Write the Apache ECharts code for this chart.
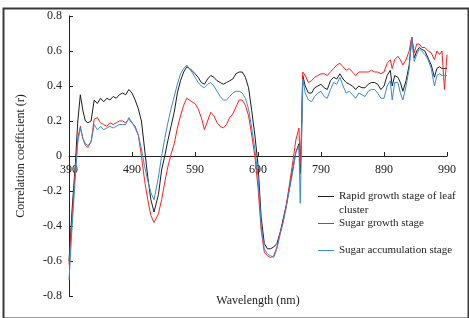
<!DOCTYPE html>
<html>
<head>
<meta charset="utf-8">
<script src="https://cdn.jsdelivr.net/npm/echarts@6/dist/echarts.min.js"></script>
<style>
  html, body { margin: 0; padding: 0; background: #fff; }
  #chart { width: 469px; height: 318px; }
</style>
</head>
<body>
<div id="chart"></div>
<script>
// wavelength (nm) sample points
var wavelengths = [390,395,400,404,408,412,416,420,425,428,
    430,435,440,445,450,455,460,465,470,475,
    480,485,490,495,500,505,510,515,520,525,
    528,532,537,542,547,552,557,562,567,572,
    577,580,585,590,595,600,605,610,615,620,
    625,630,635,640,645,650,655,660,665,670,
    675,680,685,690,695,700,705,710,715,720,
    725,730,735,740,745,750,755,757,759,761,
    765,770,775,780,785,790,795,800,805,810,
    815,820,825,830,835,840,845,850,855,860,
    865,870,875,880,885,890,895,900,903,907,
    912,916,920,925,930,934,938,942,946,950,
    955,960,965,970,974,978,982,986,990];

// Rapid growth stage of leaf cluster
var rapidGrowth = [-0.60,-0.30,-0.05,0.20,0.35,0.26,0.20,0.19,0.20,0.21,
    0.32,0.30,0.33,0.31,0.33,0.32,0.34,0.33,0.35,0.36,
    0.35,0.38,0.36,0.32,0.27,0.20,0.04,-0.12,-0.25,-0.32,
    -0.33,-0.22,-0.08,0.00,0.09,0.17,0.25,0.36,0.43,0.48,
    0.51,0.51,0.49,0.47,0.45,0.42,0.41,0.44,0.46,0.45,
    0.43,0.42,0.41,0.42,0.43,0.44,0.47,0.48,0.48,0.45,
    0.39,0.26,0.12,-0.05,-0.35,-0.50,-0.53,-0.53,-0.52,-0.50,
    -0.44,-0.36,-0.28,-0.18,-0.08,0.02,0.07,-0.10,0.10,0.46,
    0.40,0.36,0.36,0.39,0.40,0.41,0.39,0.38,0.43,0.45,
    0.44,0.47,0.44,0.42,0.41,0.40,0.38,0.40,0.39,0.39,
    0.41,0.42,0.42,0.41,0.38,0.40,0.46,0.49,0.40,0.46,
    0.45,0.42,0.37,0.43,0.52,0.68,0.56,0.60,0.62,0.61,
    0.60,0.56,0.52,0.45,0.50,0.51,0.50,0.50,0.50];

// Sugar growth stage
var sugarGrowth = [-0.62,-0.35,-0.08,0.10,0.17,0.10,0.06,0.05,0.08,0.09,
    0.21,0.22,0.19,0.18,0.17,0.19,0.18,0.19,0.20,0.20,
    0.19,0.21,0.19,0.17,0.12,0.00,-0.14,-0.25,-0.34,-0.38,
    -0.36,-0.33,-0.25,-0.15,-0.06,0.01,0.07,0.16,0.23,0.29,
    0.33,0.34,0.31,0.30,0.27,0.22,0.15,0.20,0.25,0.23,
    0.19,0.17,0.16,0.18,0.22,0.24,0.28,0.32,0.32,0.29,
    0.23,0.12,0.00,-0.18,-0.42,-0.55,-0.57,-0.58,-0.57,-0.52,
    -0.44,-0.37,-0.28,-0.16,-0.04,0.09,0.16,-0.05,0.15,0.48,
    0.46,0.42,0.43,0.45,0.46,0.47,0.47,0.46,0.48,0.50,
    0.52,0.53,0.51,0.49,0.50,0.48,0.46,0.48,0.48,0.48,
    0.48,0.49,0.48,0.48,0.47,0.48,0.53,0.55,0.50,0.55,
    0.57,0.55,0.52,0.55,0.60,0.68,0.59,0.64,0.64,0.62,
    0.62,0.60,0.59,0.55,0.60,0.58,0.60,0.38,0.58];

// Sugar accumulation stage
var sugarAccumulation = [-0.71,-0.40,-0.12,0.08,0.16,0.10,0.07,0.06,0.08,0.09,
    0.18,0.15,0.17,0.15,0.16,0.17,0.16,0.17,0.18,0.18,
    0.18,0.22,0.19,0.16,0.12,0.04,-0.06,-0.14,-0.21,-0.25,
    -0.24,-0.12,0.00,0.10,0.19,0.27,0.34,0.41,0.47,0.50,
    0.52,0.51,0.48,0.45,0.42,0.40,0.39,0.41,0.42,0.40,
    0.37,0.34,0.32,0.32,0.34,0.36,0.37,0.37,0.36,0.33,
    0.27,0.16,0.04,-0.12,-0.40,-0.53,-0.56,-0.57,-0.58,-0.53,
    -0.45,-0.38,-0.29,-0.19,-0.09,0.02,0.06,-0.27,0.05,0.44,
    0.36,0.32,0.31,0.34,0.36,0.37,0.34,0.33,0.38,0.42,
    0.41,0.45,0.40,0.36,0.37,0.35,0.33,0.36,0.35,0.34,
    0.37,0.38,0.38,0.36,0.33,0.33,0.40,0.43,0.32,0.42,
    0.42,0.36,0.32,0.40,0.50,0.68,0.54,0.58,0.61,0.60,
    0.58,0.55,0.50,0.40,0.46,0.47,0.46,0.46,0.46];

var seriesNames = ['Rapid growth stage of leaf cluster', 'Sugar growth stage', 'Sugar accumulation stage'];
var seriesColors = ['#1c1c1c', '#ff1e1e', '#3b8bd2'];

var FONT = '"Liberation Serif", "Times New Roman", serif';
var TEXT_COLOR = '#222';

function pairs(values) {
    return wavelengths.map(function (w, i) {
        return [w, values[i]];
    });
}

function makeSeries(name, values, color) {
    return {
        name: name,
        type: 'line',
        data: pairs(values),
        symbol: 'none',
        showSymbol: false,
        silent: true,
        animation: false,
        itemStyle: { color: color },
        lineStyle: { color: color, width: 1 }
    };
}

// one legend per entry, the reference spaces them unevenly
function makeLegend(name, top) {
    return {
        data: [name],
        left: 318,
        top: top,
        padding: 0,
        icon: 'rect',
        itemWidth: 16,
        itemHeight: 1,
        itemGap: 0,
        selectedMode: false,
        textStyle: {
            fontFamily: FONT,
            fontSize: 11,
            color: TEXT_COLOR
        },
        formatter: function (n) {
            // the long name wraps, second line is drawn below as graphic
            if (n === seriesNames[0]) {
                return 'Rapid growth stage of leaf';
            }
            return n;
        }
    };
}

var chart = echarts.init(document.getElementById('chart'), null, { renderer: 'canvas' });

var option = {
    animation: false,
    backgroundColor: '#fff',
    grid: {
        left: 69,
        right: 22,
        top: 16,
        bottom: 22,
        containLabel: false
    },
    legend: [
        makeLegend(seriesNames[0], 191),
        makeLegend(seriesNames[1], 218),
        makeLegend(seriesNames[2], 245)
    ],
    xAxis: {
        type: 'value',
        min: 390,
        max: 990,
        interval: 100,
        position: 'bottom',
        offset: -140,
        axisLine: { onZero: false, lineStyle: { color: '#222', width: 1 } },
        axisTick: { inside: true, length: 4, lineStyle: { color: '#222' } },
        axisLabel: { margin: 8, fontFamily: FONT, fontSize: 12, color: TEXT_COLOR },
        splitLine: { show: false }
    },
    yAxis: {
        type: 'value',
        min: -0.8,
        max: 0.8,
        interval: 0.2,
        name: 'Correlation coefficient (r)',
        nameLocation: 'middle',
        nameGap: 42,
        nameTextStyle: { fontFamily: FONT, fontSize: 12, color: TEXT_COLOR },
        axisLine: { show: true, onZero: false, lineStyle: { color: '#222', width: 1 } },
        axisTick: { show: true, inside: true, length: 4, lineStyle: { color: '#222' } },
        axisLabel: {
            margin: 7,
            fontFamily: FONT,
            fontSize: 12,
            color: TEXT_COLOR,
            formatter: function (v) {
                var r = Math.round(v * 10) / 10;
                return r === 0 ? '0' : r.toFixed(1);
            }
        },
        splitLine: { show: false }
    },
    graphic: [
        {
            type: 'rect',
            left: 1,
            top: 6,
            shape: { width: 465, height: 310 },
            style: { fill: 'none', stroke: '#3a3a3a', lineWidth: 2 },
            silent: true
        },
        {
            type: 'text',
            x: 339,
            y: 210,
            style: {
                text: 'cluster',
                font: '11px ' + FONT,
                fill: TEXT_COLOR,
                textAlign: 'left',
                textVerticalAlign: 'middle'
            },
            silent: true
        },
        {
            type: 'text',
            x: 258,
            y: 301,
            style: {
                text: 'Wavelength (nm)',
                font: '12px ' + FONT,
                fill: TEXT_COLOR,
                textAlign: 'center',
                textVerticalAlign: 'middle'
            },
            silent: true
        }
    ],
    series: [
        makeSeries(seriesNames[0], rapidGrowth, seriesColors[0]),
        makeSeries(seriesNames[1], sugarGrowth, seriesColors[1]),
        makeSeries(seriesNames[2], sugarAccumulation, seriesColors[2])
    ]
};

chart.setOption(option);
</script>
</body>
</html>
